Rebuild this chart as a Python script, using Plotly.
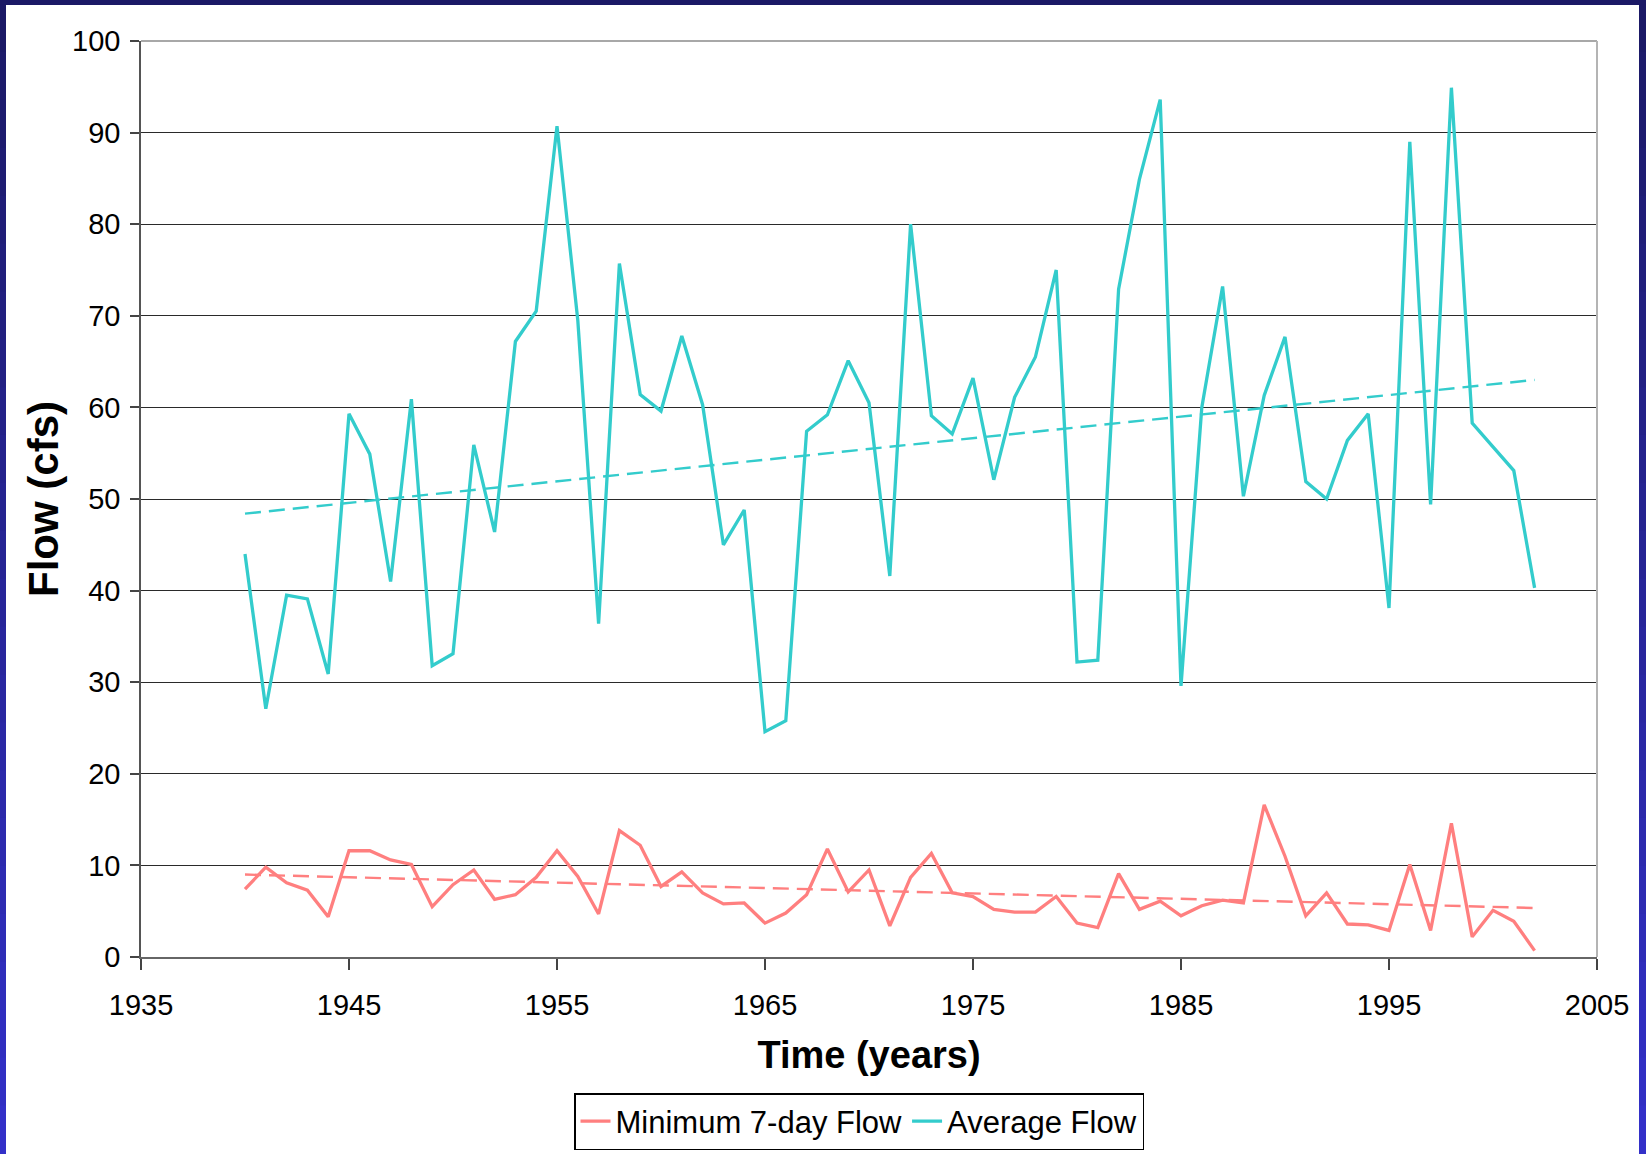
import plotly.graph_objects as go

# ---------------- data ----------------
years = list(range(1940, 2003))

average_flow = [
    44.0, 27.1, 39.5, 39.1, 30.9, 59.3, 54.9, 41.0, 60.9, 31.8,
    33.1, 55.9, 46.4, 67.2, 70.5, 90.7, 69.5, 36.4, 75.7, 61.4,
    59.6, 67.8, 60.3, 45.0, 48.8, 24.6, 25.8, 57.4, 59.2, 65.1,
    60.5, 41.6, 80.0, 59.1, 57.1, 63.2, 52.1, 61.1, 65.5, 75.0,
    32.2, 32.4, 72.9, 84.9, 93.6, 29.6, 60.0, 73.2, 50.3, 61.3,
    67.7, 51.9, 50.0, 56.4, 59.3, 38.1, 89.0, 49.4, 94.9, 58.3,
    55.7, 53.1, 40.3,
]

min_7day_flow = [
    7.4, 9.8, 8.1, 7.3, 4.4, 11.6, 11.6, 10.6, 10.1, 5.5,
    7.9, 9.5, 6.3, 6.8, 8.7, 11.6, 8.8, 4.7, 13.8, 12.2,
    7.7, 9.3, 7.0, 5.8, 5.9, 3.7, 4.8, 6.8, 11.8, 7.1,
    9.5, 3.4, 8.7, 11.3, 7.0, 6.6, 5.2, 4.9, 4.9, 6.6,
    3.7, 3.2, 9.1, 5.2, 6.1, 4.5, 5.6, 6.2, 5.9, 16.6,
    11.0, 4.5, 7.0, 3.6, 3.5, 2.9, 10.1, 2.9, 14.6, 2.2,
    5.1, 3.9, 0.7,
]

# linear trend lines (end points)
trend_years = [1940, 2002]
average_trend = [48.4, 63.0]
min_trend = [9.0, 5.35]

x_ticks = [1935, 1945, 1955, 1965, 1975, 1985, 1995, 2005]
y_ticks = [0, 10, 20, 30, 40, 50, 60, 70, 80, 90, 100]

# ---------------- styling ----------------
W, H = 1646, 1154
ML, MR, MT, MB = 141, 49, 41, 197
PW, PH = W - ML - MR, H - MT - MB

RED = "#FF7F7F"
CYAN = "#33CCCC"
FONT = "Liberation Sans, Arial, sans-serif"


def px(xp):
    return (xp - ML) / PW


def py(yp):
    return (H - MB - yp) / PH


fig = go.Figure()

fig.add_trace(go.Scatter(x=years, y=min_7day_flow, mode="lines", name="Minimum 7-day Flow",
                         line=dict(color=RED, width=3.3)))
fig.add_trace(go.Scatter(x=years, y=average_flow, mode="lines", name="Average Flow",
                         line=dict(color=CYAN, width=3.3)))
fig.add_trace(go.Scatter(x=trend_years, y=min_trend, mode="lines", showlegend=False,
                         line=dict(color=RED, width=2.4, dash="16px,8px"), hoverinfo="skip"))
fig.add_trace(go.Scatter(x=trend_years, y=average_trend, mode="lines", showlegend=False,
                         line=dict(color=CYAN, width=2.4, dash="16px,8px"), hoverinfo="skip"))

shapes = []
# white slide body (border of the slide stays dark blue)
shapes.append(dict(type="rect", xref="paper", yref="paper", layer="below",
                   x0=px(6), x1=px(1639), y0=py(H + 5), y1=py(5),
                   fillcolor="white", line=dict(width=0)))
# gradient of the side borders
n_bands = 24
for i in range(n_bands):
    t = i / (n_bands - 1)
    r = int(0x1b + (0x33 - 0x1b) * t)
    g = int(0x19 + (0x30 - 0x19) * t)
    b = int(0x66 + (0xc8 - 0x66) * t)
    col = f"rgb({r},{g},{b})"
    y0 = py(5 + (H - 5) * (i + 1) / n_bands)
    y1 = py(5 + (H - 5) * i / n_bands)
    for xa, xb in ((0, 6), (1639, W)):
        shapes.append(dict(type="rect", xref="paper", yref="paper", layer="below",
                           x0=px(xa), x1=px(xb), y0=y0 - 0.001, y1=y1 + 0.001,
                           fillcolor=col, line=dict(width=0)))
# light grey plot-area border on top and right
shapes.append(dict(type="line", xref="paper", yref="paper", layer="above",
                   x0=0, x1=1, y0=1, y1=1, line=dict(color="#a8a8a8", width=2)))
shapes.append(dict(type="line", xref="paper", yref="paper", layer="above",
                   x0=1, x1=1, y0=0, y1=1, line=dict(color="#b4b4b4", width=2)))

fig.update_layout(
    width=W, height=H,
    margin=dict(l=ML, r=MR, t=MT, b=MB, autoexpand=False),
    paper_bgcolor="#1b1966",
    plot_bgcolor="white",
    shapes=shapes,
    showlegend=True,
    legend=dict(
        orientation="h", x=px(859), xanchor="center", y=py(1093), yanchor="top",
        bgcolor="white", bordercolor="black", borderwidth=1.5,
        font=dict(family=FONT, size=31, color="black"),
        itemwidth=30, tracegroupgap=0,
    ),
    xaxis=dict(
        range=[1935, 2005], tickmode="array", tickvals=x_ticks,
        ticks="outside", ticklen=11, tickwidth=1.5, tickcolor="#444",
        showline=True, linecolor="#666", linewidth=2,
        showgrid=False, zeroline=False,
        tickfont=dict(family=FONT, size=29, color="black"),
        ticklabelstandoff=10,
        title=dict(text="<b>Time (years)</b>", standoff=22,
                   font=dict(family=FONT, size=38, color="black")),
    ),
    yaxis=dict(
        range=[0, 100], tickmode="array", tickvals=y_ticks,
        ticks="outside", ticklen=9, tickwidth=1.5, tickcolor="#444",
        showline=True, linecolor="#555", linewidth=1.5,
        showgrid=True, gridcolor="#2a2a2a", gridwidth=1.2,
        zeroline=False,
        tickfont=dict(family=FONT, size=29, color="black"),
        ticklabelstandoff=4,
        title=dict(text="<b>Flow (cfs)</b>", standoff=0,
                   font=dict(family=FONT, size=42, color="black")),
    ),
)

fig.write_html("out.html")
